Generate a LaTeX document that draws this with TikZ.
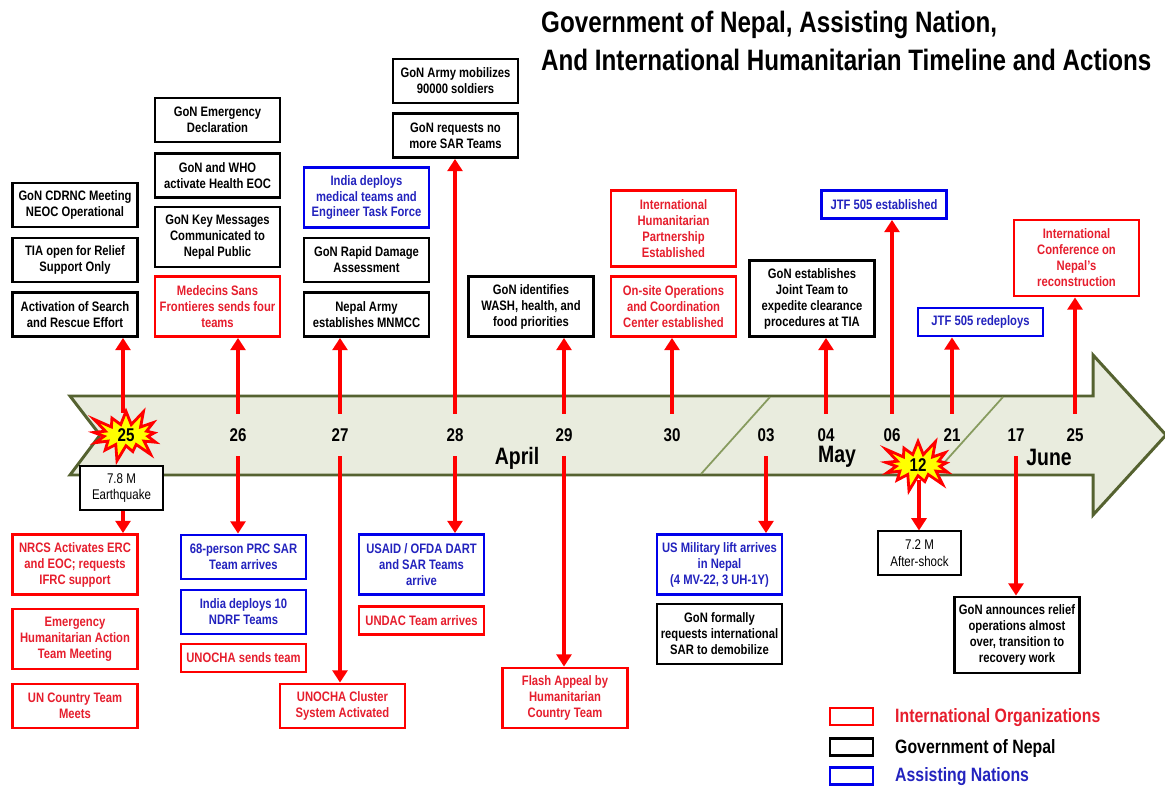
\documentclass[tikz,border=0pt]{standalone}
\usepackage{fontspec}
\setmainfont{Liberation Sans}[FakeStretch=0.82]
\usetikzlibrary{arrows.meta,shapes.symbols}

\definecolor{intlred}{RGB}{255,0,0}
\definecolor{intltext}{RGB}{230,30,45}
\definecolor{nationblue}{RGB}{0,0,235}
\definecolor{nationtext}{RGB}{35,35,190}
\definecolor{bandfill}{RGB}{233,236,222}
\definecolor{banddraw}{RGB}{85,98,48}
\definecolor{sepline}{RGB}{135,155,95}
\definecolor{burstyellow}{RGB}{255,255,0}

\tikzset{
  evbox/.style={draw, line width=1.6pt, fill=white, align=center, minimum width=2.5cm,
    inner sep=1pt, font=\bfseries\fontsize{7.8}{9.1}\selectfont},
  gonbox/.style={evbox, draw=black, text=black},
  intlbox/.style={evbox, draw=intlred, text=intltext},
  nationbox/.style={evbox, draw=nationblue, text=nationtext},
  daylabel/.style={font=\bfseries\fontsize{10.5}{12}\selectfont, minimum height=0.84cm, inner sep=0pt},
  monthlabel/.style={font=\bfseries\fontsize{13.5}{15}\selectfont},
  evarrow/.style={draw=intlred, line width=2.3pt, -{Triangle[width=8.5pt,length=7pt]}},
  burst/.style={starburst, draw=intlred, fill=burstyellow, line width=1.6pt, starburst points=13,
    starburst point height=0.36cm, minimum width=1.6cm, minimum height=1.15cm, inner sep=0pt,
    font=\bfseries\fontsize{10.5}{12}\selectfont},
  quakebox/.style={draw, line width=0.6pt, fill=white, align=center, minimum width=1.66cm,
    minimum height=0.88cm, inner sep=1pt, font=\fontsize{8}{9.6}\selectfont},
  legbox/.style={draw, line width=1.6pt, minimum width=0.86cm, minimum height=0.34cm, inner sep=0pt},
  legtext/.style={anchor=west, font=\bfseries\fontsize{11}{12}\selectfont},
}

\begin{document}
\begin{tikzpicture}[x=0.02cm,y=-0.02cm]
    \useasboundingbox (0,0) rectangle (1165,786);

    % timeline band
    \draw[banddraw, fill=bandfill, line width=1.7pt] (70,396) -- (1093,396) -- (1093,355) -- (1166,435)
        -- (1093,515) -- (1093,475) -- (70,475) -- (100,435) -- cycle;
    \draw[sepline, line width=1pt] (770,397) -- (701,474);
    \draw[sepline, line width=1pt] (1003,397) -- (934,474);

    % title
    \node[anchor=west, align=left, font=\bfseries\fontsize{16.8}{21.5}\selectfont] (title) at (535,41)
        {Government of Nepal, Assisting Nation,\\And International Humanitarian Timeline and Actions};

    % days and months
    \coordinate (t25a) at (123,413);
    \node[daylabel] (d26) at (238,435) {26};
    \node[daylabel] (d27) at (340,435) {27};
    \node[daylabel] (d28) at (455,435) {28};
    \node[daylabel] (d29) at (564,435) {29};
    \node[daylabel] (d30) at (672,435) {30};
    \node[daylabel] (d03) at (766,435) {03};
    \node[daylabel] (d04) at (826,435) {04};
    \node[daylabel] (d06) at (892,435) {06};
    \node[daylabel] (d21) at (952,435) {21};
    \node[daylabel] (d17) at (1016,435) {17};
    \node[daylabel] (d25j) at (1075,435) {25};
    \node[monthlabel] (april) at (517,458) {April};
    \node[monthlabel] (may) at (837,457) {May};
    \node[monthlabel] (june) at (1049,457) {June};

    % events above the timeline
    \node[gonbox, minimum height=0.88cm] (cdrnc) at (75,205) {GoN CDRNC Meeting\\NEOC Operational};
    \node[gonbox, minimum height=0.88cm] (tia) at (75,260) {TIA open for Relief\\Support Only};
    \node[gonbox, minimum height=0.88cm] (sar) at (75,314.5) {Activation of Search\\and Rescue Effort};
    \node[gonbox, minimum height=0.88cm] (emerg) at (217.5,120) {GoN Emergency\\Declaration};
    \node[gonbox, minimum height=0.88cm] (who) at (217.5,175.5) {GoN and WHO\\activate Health EOC};
    \node[gonbox, minimum height=1.2cm] (keymsg) at (217.5,237) {GoN Key Messages\\Communicated to\\Nepal Public};
    \node[intlbox, minimum height=1.2cm] (msf) at (217.5,306.5) {Medecins Sans\\Frontieres sends four\\teams};
    \node[gonbox, minimum height=0.88cm] (army) at (455.5,81) {GoN Army mobilizes\\90000 soldiers};
    \node[gonbox, minimum height=0.88cm] (nosar) at (455.5,135.5) {GoN requests no\\more SAR Teams};
    \node[nationbox, minimum height=1.2cm] (indmed) at (366.5,197.5) {India deploys\\medical teams and\\Engineer Task Force};
    \node[gonbox, minimum height=0.88cm] (rda) at (366.5,260) {GoN Rapid Damage\\Assessment};
    \node[gonbox, minimum height=0.88cm] (mnmcc) at (366.5,314.5) {Nepal Army\\establishes MNMCC};
    \node[gonbox, minimum height=1.2cm] (wash) at (531,306.5) {GoN identifies\\WASH, health, and\\food priorities};
    \node[intlbox, minimum height=1.52cm] (ihp) at (673.5,228.5) {International\\Humanitarian\\Partnership\\Established};
    \node[intlbox, minimum height=1.2cm] (osocc) at (673.5,306.5) {On-site Operations\\and Coordination\\Center established};
    \node[gonbox, minimum height=1.52cm] (joint) at (812,298.5) {GoN establishes\\Joint Team to\\expedite clearance\\procedures at TIA};
    \node[nationbox, minimum height=0.56cm] (jtfest) at (884,204.5) {JTF 505 established};
    \node[intlbox, minimum height=1.52cm] (conf) at (1076.5,258) {International\\Conference on\\Nepal’s\\reconstruction};
    \node[nationbox, minimum height=0.56cm] (jtfred) at (980.5,322) {JTF 505 redeploys};

    % events below the timeline
    \node[intlbox, minimum height=1.2cm] (nrcs) at (75,564.5) {NRCS Activates ERC\\and EOC; requests\\IFRC support};
    \node[intlbox, minimum height=1.2cm] (ehat) at (75,639) {Emergency\\Humanitarian Action\\Team Meeting};
    \node[intlbox, minimum height=0.88cm] (unct) at (75,706) {UN Country Team\\Meets};
    \node[nationbox, minimum height=0.88cm] (prc) at (243.5,557) {68-person PRC SAR\\Team arrives};
    \node[nationbox, minimum height=0.88cm] (ndrf) at (243.5,612) {India deploys 10\\NDRF Teams};
    \node[intlbox, minimum height=0.56cm] (ochateam) at (243.5,658) {UNOCHA sends team};
    \node[intlbox, minimum height=0.88cm] (cluster) at (342.5,706) {UNOCHA Cluster\\System Activated};
    \node[nationbox, minimum height=1.2cm] (dart) at (421.5,564.5) {USAID / OFDA DART\\and SAR Teams\\arrive};
    \node[intlbox, minimum height=0.56cm] (undac) at (421.5,620.5) {UNDAC Team arrives};
    \node[intlbox, minimum height=1.2cm] (flash) at (565,698) {Flash Appeal by\\Humanitarian\\Country Team};
    \node[nationbox, minimum height=1.2cm] (usmil) at (719.5,564.5) {US Military lift arrives\\in Nepal\\(4 MV-22, 3 UH-1Y)};
    \node[gonbox, minimum height=1.2cm] (demob) at (719.5,634) {GoN formally\\requests international\\SAR to demobilize};
    \node[gonbox, minimum height=1.52cm] (relief) at (1017,635) {GoN announces relief\\operations almost\\over, transition to\\recovery work};

    % arrows up
    \draw[evarrow] (t25a) -- (t25a |- sar.south);
    \draw[evarrow] (d26.north) -- (d26.north |- msf.south);
    \draw[evarrow] (d27.north) -- (d27.north |- mnmcc.south);
    \draw[evarrow] (d28.north) -- (d28.north |- nosar.south);
    \draw[evarrow] (d29.north) -- (d29.north |- wash.south);
    \draw[evarrow] (d30.north) -- (d30.north |- osocc.south);
    \draw[evarrow] (d04.north) -- (d04.north |- joint.south);
    \draw[evarrow] (d06.north) -- (d06.north |- jtfest.south);
    \draw[evarrow] (d21.north) -- (d21.north |- jtfred.south);
    \draw[evarrow] (d25j.north) -- (d25j.north |- conf.south);

    % arrows down
    \draw[evarrow] (d26.south) -- (d26.south |- prc.north);
    \draw[evarrow] (d27.south) -- (d27.south |- cluster.north);
    \draw[evarrow] (d28.south) -- (d28.south |- dart.north);
    \draw[evarrow] (d29.south) -- (d29.south |- flash.north);
    \draw[evarrow] (d03.south) -- (d03.south |- usmil.north);
    \draw[evarrow] (d17.south) -- (d17.south |- relief.north);

    % earthquakes
    \coordinate (b12) at (919,480);
    \node[quakebox] (after) at (919.5,553) {7.2 M\\After-shock};
    \draw[evarrow] (b12) -- (b12 |- after.north);
    \node[burst] (d25a) at (126,435) {25};
    \node[burst] (d12) at (918,465) {12};
    \node[quakebox] (quake) at (121.5,488) {7.8 M\\Earthquake};
    \draw[evarrow] (quake.south -| t25a) -- (t25a |- nrcs.north);

    % legend
    \node[legbox, draw=intlred] (legintl) at (851.5,716.5) {};
    \node[legbox, draw=black] (leggon) at (851.5,747) {};
    \node[legbox, draw=nationblue] (legnat) at (851.5,776) {};
    \node[legtext, text=intltext] (legintltxt) at (889,718) {International Organizations};
    \node[legtext, text=black] (leggontxt) at (889,748) {Government of Nepal};
    \node[legtext, text=nationtext] (legnattxt) at (889,777) {Assisting Nations};
\end{tikzpicture}
\end{document}
